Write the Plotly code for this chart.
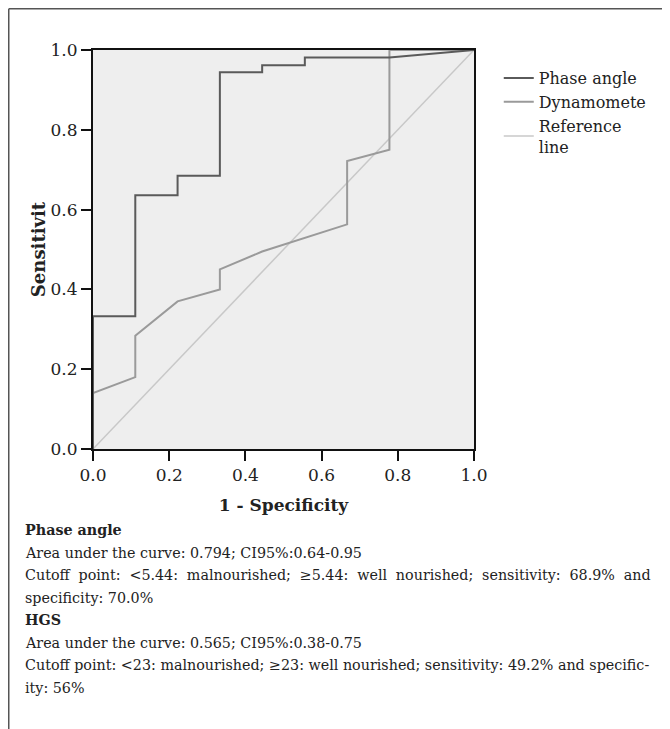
import plotly.graph_objects as go

# ROC data (1 - specificity, sensitivity)
phase_x = [0.0, 0.0, 0.111, 0.111, 0.222, 0.222, 0.333, 0.333, 0.444, 0.444, 0.556, 0.556, 0.778, 1.0]
phase_y = [0.0, 0.333, 0.333, 0.636, 0.636, 0.685, 0.685, 0.944, 0.944, 0.962, 0.962, 0.981, 0.981, 1.0]

dyn_x = [0.0, 0.0, 0.111, 0.111, 0.222, 0.333, 0.333, 0.444, 0.667, 0.667, 0.778, 0.778, 1.0]
dyn_y = [0.0, 0.14, 0.18, 0.284, 0.37, 0.40, 0.45, 0.495, 0.563, 0.722, 0.75, 1.0, 1.0]

ref_x = [0.0, 1.0]
ref_y = [0.0, 1.0]

ticks = [0.0, 0.2, 0.4, 0.6, 0.8, 1.0]
tick_labels = ["0.0", "0.2", "0.4", "0.6", "0.8", "1.0"]

FONT = "DejaVu Serif"
TXT = "#222222"

W, H = 662, 721
L, T = 85, 42
PW, PH = 381, 399

fig = go.Figure()
fig.add_trace(go.Scatter(x=ref_x, y=ref_y, mode="lines", name="Reference<br>line",
                         line=dict(color="#c8c8c8", width=1.5), legendrank=3))
fig.add_trace(go.Scatter(x=dyn_x, y=dyn_y, mode="lines", name="Dynamomete",
                         line=dict(color="#9a9a9a", width=2), legendrank=2))
fig.add_trace(go.Scatter(x=phase_x, y=phase_y, mode="lines", name="Phase angle",
                         line=dict(color="#5a5a5a", width=2), legendrank=1))

axis_common = dict(range=[0, 1], tickvals=ticks, ticktext=tick_labels, showgrid=False,
                   zeroline=False, showline=True, linecolor="#111111", linewidth=2,
                   ticks="outside", ticklen=10, tickwidth=1.5, tickcolor="#111111",
                   tickfont=dict(family=FONT, size=17, color=TXT), mirror=True,
                   layer="below traces")

fig.update_layout(
    width=W, height=H,
    margin=dict(l=L, r=W - L - PW, t=T, b=H - T - PH),
    paper_bgcolor="white", plot_bgcolor="#eeeeee",
    font=dict(family=FONT, color=TXT),
    showlegend=True,
    legend=dict(x=1.065, y=0.972, xanchor="left", yanchor="top", bgcolor="rgba(0,0,0,0)",
                font=dict(family=FONT, size=16, color=TXT), tracegroupgap=0,
                itemwidth=30, traceorder="normal"),
    xaxis=dict(**axis_common, title=dict(text="<b>1 - Specificity</b>", standoff=15,
                                         font=dict(family=FONT, size=17, color=TXT))),
    yaxis=dict(**axis_common, title=dict(text="<b>Sensitivit</b>", standoff=0,
                                         font=dict(family=FONT, size=18, color=TXT))),
)

# outer frame (top and left lines)
fx = (0.75 - L) / PW
fy = (T + PH - 0.75) / PH
fig.add_shape(type="line", xref="paper", yref="paper", x0=fx, x1=(W - L) / PW, y0=fy, y1=fy,
              line=dict(color="#555555", width=1.5))
fig.add_shape(type="line", xref="paper", yref="paper", x0=fx, x1=fx, y0=fy, y1=(T + PH - H) / PH,
              line=dict(color="#555555", width=1.5))

# caption text (screen y positions; body offset 8px)
SP = "\u2009\u200a"
lines = [
    ("<b>Phase angle</b>", 530),
    ("Area under the curve: 0.794; CI95%:0.64-0.95", 553),
    (("Cutoff point: &lt;5.44: malnourished; ≥5.44: well nourished; sensitivity: 68.9% and").replace(" ", " " + SP), 575),
    ("specificity: 70.0%", 598),
    ("<b>HGS</b>", 620),
    ("Area under the curve: 0.565; CI95%:0.38-0.75", 643),
    ("Cutoff point: &lt;23: malnourished; ≥23: well nourished; sensitivity: 49.2% and specific-", 665),
    ("ity: 56%", 688),
]
x_left_paper = (15 - L) / PW
for txt, ypx in lines:
    fig.add_annotation(text=txt, xref="paper", yref="paper",
                       x=x_left_paper, y=(T + PH - (ypx - 8)) / PH, xanchor="left", yanchor="middle",
                       showarrow=False, font=dict(family=FONT, size=14.3, color=TXT))

fig.write_html("out.html")
